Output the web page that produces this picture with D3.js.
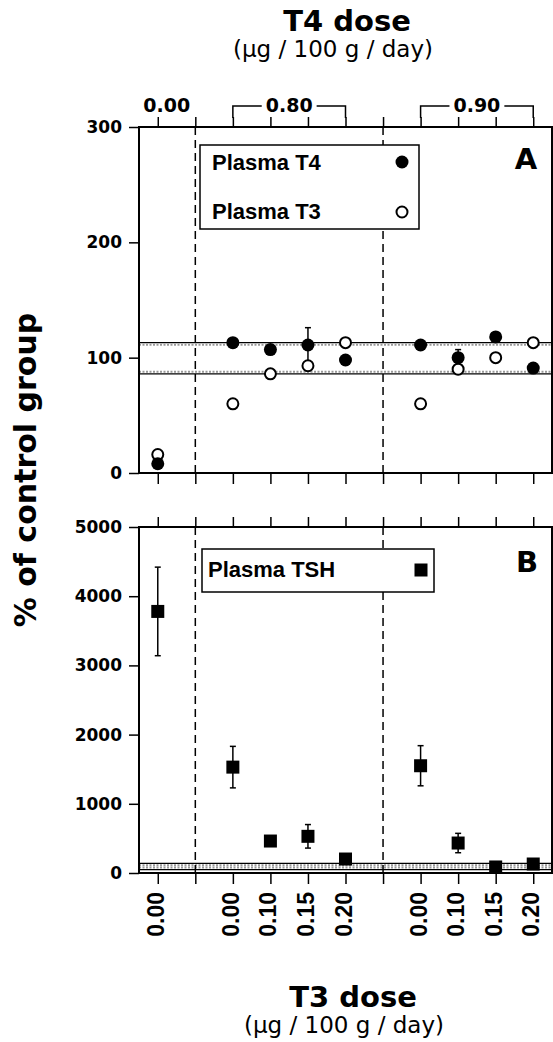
<!DOCTYPE html>
<html>
<head>
<meta charset="utf-8">
<script src="https://cdn.jsdelivr.net/npm/d3@7"></script>
<style>
  html, body { margin: 0; padding: 0; background: #fff; }
  svg { display: block; }
</style>
</head>
<body>
<svg id="chart" width="553" height="1042"></svg>
<script>
// ---------------- data ----------------
const positions = [0, 1, 2, 3, 4, 5, 6, 7, 8, 9, 10];
const t3DoseLabels = ["0.00", "", "0.00", "0.10", "0.15", "0.20", "", "0.00", "0.10", "0.15", "0.20"];
const separators = [1, 6];
const t4GroupLabels = ["0.00", "0.80", "0.90"];
const t4GroupFrom = [0, 2, 7];
const t4GroupTo = [0, 5, 10];

const plasmaT4 = [8, null, 113, 107, 111, 98, null, 111, 100, 118, 91];
const plasmaT4Err = [0, null, 0, 0, 15, 0, null, 0, 7, 0, 0];
const plasmaT3 = [16, null, 60, 86, 93, 113, null, 60, 90, 100, 113];
const plasmaTSH = [3780, null, 1530, 462, 530, 202, null, 1550, 433, 87, 130];
const plasmaTSHErr = [640, null, 300, 0, 170, 0, null, 290, 140, 0, 0];

const controlBandA = [86, 113];
const controlBandB = [50, 140];

const yTicksA = [0, 100, 200, 300];
const yTicksB = [0, 1000, 2000, 3000, 4000, 5000];

// ---------------- layout ----------------
const svg = d3.select("#chart");
const xL = 139, xR = 552;
const A = { top: 127, bottom: 473 };
const B = { top: 527, bottom: 873 };
const BOLD_WIDE = "'DejaVu Sans', sans-serif";
const HELV = "'Liberation Sans', Arial, sans-serif";

const x = d3.scaleLinear().domain([-0.5, 10.5]).range([xL, xR]);
const yA = d3.scaleLinear().domain([0, 300]).range([A.bottom, A.top]);
const yB = d3.scaleLinear().domain([0, 5000]).range([B.bottom, B.top]);

function panel(P, y, band, yTicks) {
  const g = svg.append("g");
  // control band lines
  const [lo, hi] = band;
  g.append("line").attr("x1", xL).attr("x2", xR).attr("y1", y(hi)).attr("y2", y(hi))
    .attr("stroke", "#000").attr("stroke-width", 1.3);
  g.append("line").attr("x1", xL).attr("x2", xR).attr("y1", y(hi) + 2).attr("y2", y(hi) + 2)
    .attr("stroke", "#999").attr("stroke-width", 2).attr("stroke-dasharray", "2,1.5");
  g.append("line").attr("x1", xL).attr("x2", xR).attr("y1", y(lo)).attr("y2", y(lo))
    .attr("stroke", "#000").attr("stroke-width", 1.3);
  g.append("line").attr("x1", xL).attr("x2", xR).attr("y1", y(lo) - 2).attr("y2", y(lo) - 2)
    .attr("stroke", "#999").attr("stroke-width", 2).attr("stroke-dasharray", "2,1.5");
  // separators
  g.selectAll(".sep").data(separators).join("line")
    .attr("x1", d => x(d)).attr("x2", d => x(d))
    .attr("y1", P.top).attr("y2", P.bottom)
    .attr("stroke", "#000").attr("stroke-width", 1.5).attr("stroke-dasharray", "8,5");
  // left axis
  const ax = g.append("g").attr("transform", `translate(${xL},0)`)
    .call(d3.axisLeft(y).tickValues(yTicks).tickSize(10).tickPadding(7).tickFormat(d3.format("d")));
  ax.select(".domain").remove();
  ax.selectAll(".tick line").attr("stroke-width", 1.5);
  ax.selectAll("text").attr("font-family", BOLD_WIDE).attr("font-weight", "bold")
    .attr("font-size", 17).attr("fill", "#000");
  // top ticks
  const at = g.append("g").attr("transform", `translate(0,${P.top})`)
    .call(d3.axisTop(x).tickValues(positions).tickSize(10).tickFormat(""));
  at.select(".domain").remove();
  at.selectAll(".tick line").attr("stroke-width", 1.5);
  // bottom ticks
  const ab = g.append("g").attr("transform", `translate(0,${P.bottom})`)
    .call(d3.axisBottom(x).tickValues(positions).tickSize(11).tickFormat(""));
  ab.select(".domain").remove();
  ab.selectAll(".tick line").attr("stroke-width", 1.5);
  return g;
}

const gA = panel(A, yA, controlBandA, yTicksA);
const gB = panel(B, yB, controlBandB, yTicksB);

// ---------------- panel A legend ----------------
gA.append("rect").attr("x", 200).attr("y", 145).attr("width", 219).attr("height", 84)
  .attr("fill", "#fff").attr("stroke", "#000").attr("stroke-width", 1.5);
gA.append("text").attr("x", 212).attr("y", 170).text("Plasma T4")
  .attr("font-family", HELV).attr("font-weight", "bold").attr("font-size", 22);
gA.append("text").attr("x", 212).attr("y", 219).text("Plasma T3")
  .attr("font-family", HELV).attr("font-weight", "bold").attr("font-size", 22);
gA.append("circle").attr("cx", 402).attr("cy", 162).attr("r", 6.5).attr("fill", "#000");
gA.append("circle").attr("cx", 402).attr("cy", 212).attr("r", 5.5)
  .attr("fill", "#fff").attr("stroke", "#000").attr("stroke-width", 2);
gA.append("text").attr("x", 526).attr("y", 169).text("A").attr("text-anchor", "middle")
  .attr("font-family", BOLD_WIDE).attr("font-weight", "bold").attr("font-size", 29);

// ---------------- panel A data ----------------
const idx = positions.filter(i => plasmaT4[i] !== null);
function errBar(g, i, m, e, y) {
  if (!e) return;
  const cx = x(i);
  g.append("line").attr("x1", cx).attr("x2", cx).attr("y1", y(m - e)).attr("y2", y(m + e))
    .attr("stroke", "#000").attr("stroke-width", 1.5);
  [m - e, m + e].forEach(v => g.append("line").attr("x1", cx - 3).attr("x2", cx + 3)
    .attr("y1", y(v)).attr("y2", y(v)).attr("stroke", "#000").attr("stroke-width", 1.5));
}
idx.forEach(i => errBar(gA, i, plasmaT4[i], plasmaT4Err[i], yA));
gA.selectAll(".t3").data(idx).join("circle")
  .attr("cx", i => x(i)).attr("cy", i => yA(plasmaT3[i])).attr("r", 5.5)
  .attr("fill", "#fff").attr("stroke", "#000").attr("stroke-width", 2);
gA.selectAll(".t4").data(idx).join("circle")
  .attr("cx", i => x(i)).attr("cy", i => yA(plasmaT4[i])).attr("r", 6.5)
  .attr("fill", "#000");

// ---------------- panel B legend ----------------
gB.append("rect").attr("x", 202).attr("y", 549).attr("width", 232).attr("height", 43)
  .attr("fill", "#fff").attr("stroke", "#000").attr("stroke-width", 1.5);
gB.append("text").attr("x", 208).attr("y", 577).text("Plasma TSH")
  .attr("font-family", HELV).attr("font-weight", "bold").attr("font-size", 22);
gB.append("rect").attr("x", 421 - 6.5).attr("y", 570 - 6.5).attr("width", 13).attr("height", 13)
  .attr("fill", "#000");
gB.append("text").attr("x", 527).attr("y", 572).text("B").attr("text-anchor", "middle")
  .attr("font-family", BOLD_WIDE).attr("font-weight", "bold").attr("font-size", 29);

// ---------------- panel B data ----------------
idx.forEach(i => errBar(gB, i, plasmaTSH[i], plasmaTSHErr[i], yB));
gB.selectAll(".tsh").data(idx).join("rect")
  .attr("x", i => x(i) - 6.5).attr("y", i => yB(plasmaTSH[i]) - 6.5)
  .attr("width", 13).attr("height", 13).attr("fill", "#000");

// ---------------- frames ----------------
[A, B].forEach(P => svg.append("rect").attr("x", xL).attr("y", P.top)
  .attr("width", xR - xL).attr("height", P.bottom - P.top)
  .attr("fill", "none").attr("stroke", "#000").attr("stroke-width", 2));

// ---------------- bottom T3 labels ----------------
svg.append("g").selectAll("text").data(positions.filter(i => t3DoseLabels[i] !== "")).join("text")
  .attr("transform", i => `translate(${x(i) + 6},892) rotate(-90)`)
  .attr("text-anchor", "end")
  .attr("font-family", HELV).attr("font-weight", "bold").attr("font-size", 23)
  .text(i => t3DoseLabels[i]);

// ---------------- top T4 group labels with brackets ----------------
const topG = svg.append("g");
t4GroupLabels.forEach((lab, k) => {
  const a = t4GroupFrom[k], b = t4GroupTo[k];
  const cx = a === b ? x(a) + 9 : (x(a) + x(b)) / 2;
  const t = topG.append("text").attr("x", cx).attr("y", 112).attr("text-anchor", "middle")
    .attr("font-family", BOLD_WIDE).attr("font-weight", "bold").attr("font-size", 19).text(lab);
  if (a !== b) {
    const w = t.node().getComputedTextLength();
    const by = 106;
    topG.append("path")
      .attr("d", `M${x(a)},118V${by}H${cx - w / 2 - 4}M${cx + w / 2 + 4},${by}H${x(b)}V118`)
      .attr("fill", "none").attr("stroke", "#000").attr("stroke-width", 1.5);
  }
});

// ---------------- titles ----------------
svg.append("text").attr("x", 347).attr("y", 31).attr("text-anchor", "middle")
  .attr("font-family", BOLD_WIDE).attr("font-weight", "bold").attr("font-size", 29).text("T4 dose");
svg.append("text").attr("x", 333).attr("y", 57).attr("text-anchor", "middle")
  .attr("font-family", BOLD_WIDE).attr("font-size", 23).text("(µg / 100 g / day)");
svg.append("text").attr("x", 353).attr("y", 1007).attr("text-anchor", "middle")
  .attr("font-family", BOLD_WIDE).attr("font-weight", "bold").attr("font-size", 29).text("T3 dose");
svg.append("text").attr("x", 344).attr("y", 1033).attr("text-anchor", "middle")
  .attr("font-family", BOLD_WIDE).attr("font-size", 23).text("(µg / 100 g / day)");
svg.append("text").attr("transform", "translate(36,470) rotate(-90)").attr("text-anchor", "middle")
  .attr("font-family", BOLD_WIDE).attr("font-weight", "bold").attr("font-size", 30).text("% of control group");
</script>
</body>
</html>
